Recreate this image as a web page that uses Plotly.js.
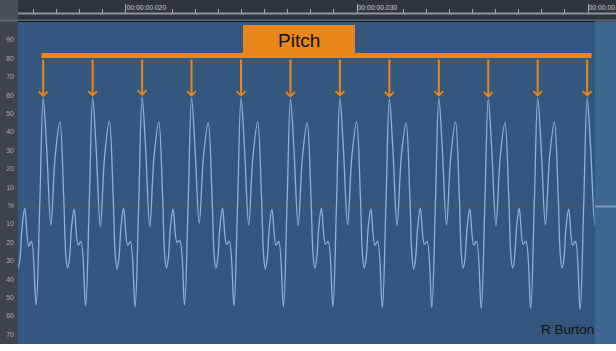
<!DOCTYPE html>
<html>
<head>
<meta charset="utf-8">
<script src="https://cdn.plot.ly/plotly-3.0.1.min.js"></script>
<style>
  html, body { margin: 0; padding: 0; background: #ffffff; }
  #chart { width: 616px; height: 351px; }
</style>
</head>
<body>
<div id="chart"></div>
<script>
// ---- Data ----
// time in milliseconds, amplitude in percent of full scale
const timeMs = [
  15.162, 15.253, 15.327, 15.409, 15.500, 15.617, 15.790, 15.907, 16.110, 16.266,
  16.416, 16.563, 16.749, 16.935, 17.139, 17.303, 17.394, 17.468, 17.550, 17.641, 17.758, 17.931, 18.048, 18.251, 18.407,
  18.557, 18.704, 18.890, 19.076, 19.280, 19.444, 19.535, 19.609, 19.691, 19.782, 19.899, 20.072, 20.189, 20.392, 20.548,
  20.697, 20.844, 21.030, 21.216, 21.420, 21.584, 21.675, 21.749, 21.831, 21.922, 22.039, 22.212, 22.329, 22.532, 22.688,
  22.838, 22.985, 23.171, 23.357, 23.561, 23.725, 23.816, 23.890, 23.972, 24.063, 24.180, 24.353, 24.470, 24.673, 24.829,
  24.979, 25.126, 25.312, 25.498, 25.702, 25.866, 25.957, 26.031, 26.113, 26.204, 26.321, 26.494, 26.611, 26.814, 26.970,
  27.120, 27.267, 27.453, 27.639, 27.843, 28.007, 28.098, 28.172, 28.254, 28.345, 28.462, 28.635, 28.752, 28.955, 29.111,
  29.260, 29.407, 29.593, 29.779, 29.983, 30.147, 30.238, 30.312, 30.394, 30.485, 30.602, 30.775, 30.892, 31.095, 31.251,
  31.401, 31.548, 31.734, 31.920, 32.124, 32.288, 32.379, 32.453, 32.535, 32.626, 32.743, 32.916, 33.033, 33.236, 33.392,
  33.542, 33.689, 33.875, 34.061, 34.265, 34.429, 34.520, 34.594, 34.676, 34.767, 34.884, 35.057, 35.174, 35.377, 35.533,
  35.682, 35.829, 36.015, 36.201, 36.405, 36.569, 36.660, 36.734, 36.816, 36.907, 37.024, 37.197, 37.314, 37.517, 37.673,
  37.823, 37.970, 38.156, 38.342, 38.546, 38.710, 38.801, 38.875, 38.957, 39.048, 39.165, 39.338, 39.455, 39.658, 39.814,
  39.964, 40.111, 40.297, 40.483
];
const amplitudePct = [
  5, -27, -34, -29, -12, -1.5, -22, -19.5, -54, 0,
  58.3, 32, -10.5, 27, 45.5, 5, -27, -34, -29, -12, -2, -21.5, -19.5, -54.5, 0,
  58.5, 32, -11.5, 27, 46, 5, -27, -34.5, -29, -12, -1.5, -21.5, -19.5, -55, 0,
  59, 32.5, -11.5, 27, 45.5, 5, -27, -34, -29, -12, -2, -20, -19, -54, 0,
  58.5, 32, -9.5, 27, 45, 5, -27, -34, -29, -12, -1.5, -21, -19.5, -54.5, 0,
  58.5, 32, -10.5, 27, 45.5, 5, -27, -34.5, -29, -12, -2, -21.5, -19.5, -55, 0,
  58, 31.5, -11, 26.5, 45, 5, -27, -34, -29, -12, -1.5, -21, -19.5, -55, 0,
  58.5, 32, -10.5, 27, 45.5, 5, -27, -34, -29, -12, -2, -21.5, -19.5, -55.5, 0,
  58, 32, -11, 27, 45, 5, -27, -34.5, -29, -12, -1.5, -21, -19.5, -55.5, 0,
  58.5, 32, -10.5, 27, 45.5, 5, -27, -34, -29, -12, -2, -21.5, -19.5, -56, 0,
  58, 31.5, -11, 26.5, 45, 5, -27, -34, -29, -12, -1.5, -21, -19.5, -56, 0,
  58.5, 32, -10.5, 27, 45.5, 5, -27, -34, -29, -12, -2, -21.5, -19.5, -56.5, 0,
  58.5, 32, -10.5, 27
];
const yTickVals = [90, 80, 70, 60, 50, 40, 30, 20, 10, 0, -10, -20, -30, -40, -50, -60, -70];
const yTickText = ['90', '80', '70', '60', '50', '40', '30', '20', '10', '%', '10', '20', '30', '40', '50', '60', '70'];
const rulerTickVals = [20, 30, 40];
const rulerTickText = ['00:00:00.020', '00:00:00.030', '00:00:00.040'];
const rulerMinorVals = [16, 17, 18, 19, 22, 23, 24, 25, 26, 27, 28, 29, 32, 33, 34, 35, 36, 37, 38, 39];
const pitchLabel = 'Pitch';
const creditText = 'R Burton';

// ---- Build chart ----
const ORANGE = '#e8861b';
const barBottom = 80.16, barTop = 82.88, boxTop = 98.1;

// pitch marks: main peaks of the waveform
const peakT = [], peakV = [];
amplitudePct.forEach((v, i) => { if (v > 50) { peakT.push(timeMs[i]); peakV.push(v); } });

const annotations = peakT.map((t, i) => ({
  x: t, y: peakV[i], xref: 'x', yref: 'y',
  ax: t, ay: barBottom, axref: 'x', ayref: 'y',
  text: '', showarrow: true, arrowhead: 4, arrowsize: 0.85, arrowwidth: 2,
  arrowcolor: ORANGE, standoff: 1
}));
annotations.push({
  x: 27.489, y: 89.6, xref: 'x', yref: 'y', text: pitchLabel, showarrow: false,
  font: { family: 'Liberation Sans, Arial, sans-serif', size: 19, color: '#111111' },
  xanchor: 'center', yanchor: 'middle'
});
annotations.push({
  x: 0.9515, y: 0.0423, xref: 'paper', yref: 'paper', text: creditText, showarrow: false,
  font: { family: 'Liberation Sans, Arial, sans-serif', size: 13.5, color: '#111111' },
  xanchor: 'center', yanchor: 'middle'
});

const X0 = -0.0312, X1 = 1.0364;
const shapes = [
  // ruler background
  { type: 'rect', xref: 'paper', yref: 'paper', x0: 0, x1: X1, y0: 0.97885, y1: 1.04, fillcolor: '#2e353d', line: { width: 0 }, layer: 'below' },
  // top-left corner
  { type: 'rect', xref: 'paper', yref: 'paper', x0: X0, x1: 0, y0: 0.97885, y1: 1.04, fillcolor: '#4a5058', line: { width: 0 }, layer: 'below' },
  // ruler baseline
  { type: 'line', xref: 'paper', yref: 'paper', x0: 0, x1: X1, y0: 0.9985, y1: 0.9985, line: { color: '#8d949b', width: 2 }, layer: 'below' },
  // light separator
  { type: 'line', xref: 'paper', yref: 'paper', x0: X0, x1: X1, y0: 0.97734, y1: 0.97734, line: { color: '#5f666e', width: 2 }, layer: 'below' },
  // dark edge above plot
  { type: 'line', xref: 'paper', yref: 'paper', x0: 0, x1: 1, y0: 0.97432, y1: 0.97432, line: { color: '#15191e', width: 1 }, layer: 'below' },
  // right strip
  { type: 'rect', xref: 'paper', yref: 'paper', x0: 1, x1: X1, y0: 0, y1: 0.97281, fillcolor: '#3e6690', line: { width: 0 }, layer: 'below' },
  { type: 'line', xref: 'paper', yref: 'paper', x0: 1, x1: X1, y0: 0.4154, y1: 0.4154, line: { color: '#7c9ec2', width: 2 }, layer: 'below' },
  // white bottom band
  { type: 'rect', xref: 'paper', yref: 'paper', x0: X0, x1: X1, y0: -0.03, y1: 0, fillcolor: '#ffffff', line: { width: 0 }, layer: 'below' },
  // pitch bar and label box
  { type: 'rect', xref: 'x', yref: 'y', x0: peakT[0] - 0.074, x1: peakT[peakT.length - 1] + 0.188, y0: barBottom, y1: barTop, fillcolor: ORANGE, line: { width: 0 } },
  { type: 'rect', xref: 'x', yref: 'y', x0: 25.065, x1: 29.913, y0: barBottom, y1: boxTop, fillcolor: ORANGE, line: { width: 0 } }
];

const trace = {
  x: timeMs, y: amplitudePct, type: 'scatter', mode: 'lines',
  line: { color: '#8ab3dd', width: 1.3, shape: 'spline', smoothing: 1 },
  hoverinfo: 'skip'
};

const layout = {
  width: 616, height: 351,
  margin: { l: 18, r: 21, t: 13, b: 7, pad: 0 },
  paper_bgcolor: '#3d444c',
  plot_bgcolor: '#34587d',
  showlegend: false,
  xaxis: {
    range: [15.325, 40.303], anchor: 'free', position: 1, side: 'top',
    showgrid: false, zeroline: false, showline: false,
    tickmode: 'array', tickvals: rulerTickVals, ticktext: rulerTickText,
    ticks: 'outside', ticklen: 9, tickwidth: 1, tickcolor: '#a3a9af',
    ticklabelposition: 'outside right', ticklabelstandoff: 0, ticklabeloverflow: 'allow',
    tickfont: { family: 'Liberation Sans, Arial, sans-serif', size: 6.8, color: '#c9cdd1' },
    minor: { tickmode: 'array', tickvals: rulerMinorVals, ticks: 'outside', ticklen: 4, tickwidth: 1, tickcolor: '#a3a9af', showgrid: false },
    fixedrange: true
  },
  yaxis: {
    range: [-75.27, 99.73], domain: [0, 0.97281],
    showgrid: false, showline: false,
    zeroline: true, zerolinecolor: '#4d5763', zerolinewidth: 1,
    tickmode: 'array', tickvals: yTickVals, ticktext: yTickText,
    ticks: '', ticklabelstandoff: 3,
    tickfont: { family: 'Liberation Sans, Arial, sans-serif', size: 7, color: '#a6abb0' },
    fixedrange: true
  },
  shapes: shapes,
  annotations: annotations
};

Plotly.newPlot('chart', [trace], layout, { displayModeBar: false, staticPlot: true });
</script>
</body>
</html>
